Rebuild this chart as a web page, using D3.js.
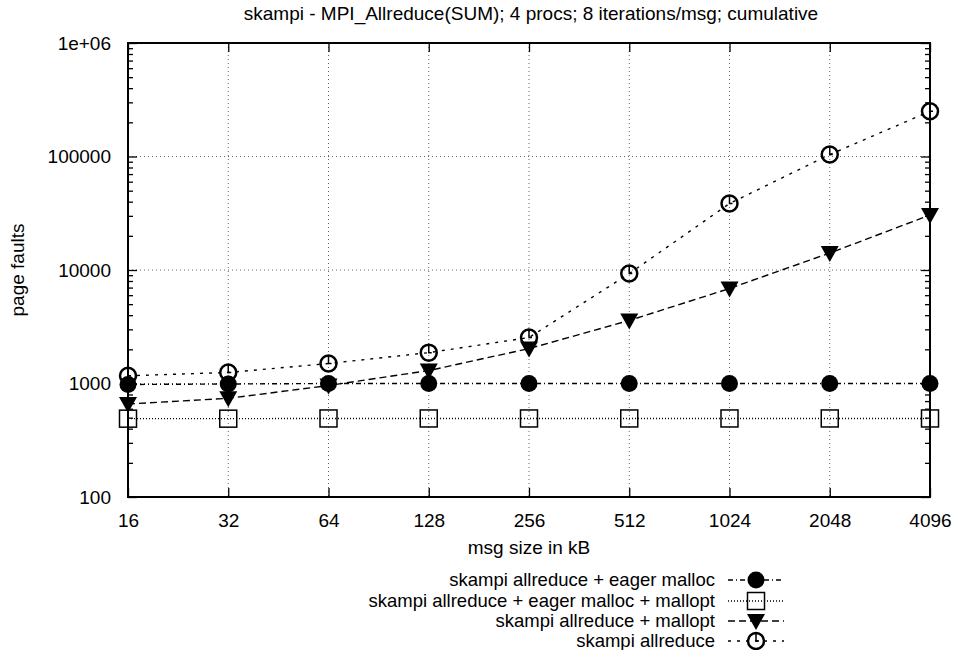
<!DOCTYPE html>
<html><head><meta charset="utf-8">
<script src="https://cdn.jsdelivr.net/npm/d3@7"></script>
<style>body{margin:0;background:#fff}svg{display:block}text{font-family:"Liberation Sans",Arial,sans-serif;fill:#000}</style>
</head><body><svg id="c" width="955" height="650"></svg>
<script>
const msgSizes = [16, 32, 64, 128, 256, 512, 1024, 2048, 4096];
const eagerMalloc = [980, 990, 1000, 1000, 1000, 1000, 1000, 1000, 1000];
const eagerMallocMallopt = [490, 490, 492, 492, 492, 492, 492, 492, 492];
const mallopt = [660, 740, 960, 1300, 2030, 3590, 6870, 14100, 30500];
const allreduce = [1170, 1250, 1500, 1870, 2540, 9300, 38500, 104000, 250000];
const yTickValues = [100, 1000, 10000, 100000, 1000000];
const yTickLabels = ["100", "1000", "10000", "100000", "1e+06"];
const seriesNames = ["skampi allreduce + eager malloc", "skampi allreduce + eager malloc + mallopt", "skampi allreduce + mallopt", "skampi allreduce"];

const svg = d3.select("#c");
const L = 128, R = 930, T = 43, B = 497;
const x = d3.scaleLog().base(2).domain([16, 4096]).range([L, R]);
const y = d3.scaleLog().domain([100, 1e6]).range([B, T]);
const FS = 19, LFS = 18.5;

// grid
const g = svg.append("g");
msgSizes.slice(1, -1).forEach(v => g.append("line").attr("x1", x(v)).attr("x2", x(v)).attr("y1", T).attr("y2", B)
  .attr("stroke", "#666").attr("stroke-width", 1).attr("stroke-dasharray", "1,3"));
yTickValues.slice(1, -1).forEach(v => g.append("line").attr("x1", L).attr("x2", R).attr("y1", y(v)).attr("y2", y(v))
  .attr("stroke", "#666").attr("stroke-width", 1).attr("stroke-dasharray", "1,3"));

// axes with d3 (inward ticks)
const minor = [];
for (let e = 2; e < 6; e++) for (let m = 2; m < 10; m++) minor.push(m * Math.pow(10, e));
const axL = svg.append("g").attr("transform", `translate(${L},0)`)
  .call(d3.axisLeft(y).tickValues(yTickValues).tickFormat((d, i) => yTickLabels[i]).tickSize(-9).tickPadding(17));
const axLm = svg.append("g").attr("transform", `translate(${L},0)`)
  .call(d3.axisLeft(y).tickValues(minor).tickFormat("").tickSize(-5));
const axR = svg.append("g").attr("transform", `translate(${R},0)`)
  .call(d3.axisRight(y).tickValues(yTickValues).tickFormat("").tickSize(-9));
const axRm = svg.append("g").attr("transform", `translate(${R},0)`)
  .call(d3.axisRight(y).tickValues(minor).tickFormat("").tickSize(-5));
const axB = svg.append("g").attr("transform", `translate(0,${B})`)
  .call(d3.axisBottom(x).tickValues(msgSizes).tickFormat(d => d).tickSize(-9).tickPadding(17));
const axT = svg.append("g").attr("transform", `translate(0,${T})`)
  .call(d3.axisTop(x).tickValues(msgSizes).tickFormat("").tickSize(-9));
[axL, axLm, axR, axRm, axB, axT].forEach(a => {
  a.select(".domain").remove();
  a.selectAll("line").attr("stroke", "#000").attr("stroke-width", 1.3);
  a.selectAll("text").style("font-size", FS + "px").style("font-family", '"Liberation Sans",Arial,sans-serif');
});
axB.selectAll("text").attr("dy", "0.68em");

svg.append("rect").attr("x", L).attr("y", T).attr("width", R - L).attr("height", B - T)
  .attr("fill", "none").attr("stroke", "#000").attr("stroke-width", 2);

// titles
svg.append("text").attr("x", (L + R) / 2 + 2).attr("y", 20).attr("text-anchor", "middle").style("font-size", FS + "px")
  .text("skampi - MPI_Allreduce(SUM); 4 procs; 8 iterations/msg; cumulative");
svg.append("text").attr("x", (L + R) / 2).attr("y", 554).attr("text-anchor", "middle").style("font-size", FS + "px")
  .text("msg size in kB");
svg.append("text").attr("transform", `translate(24,${(T + B) / 2}) rotate(-90)`).attr("text-anchor", "middle").style("font-size", FS + "px")
  .text("page faults");

// series
const series = [
  { vals: eagerMalloc, dash: "5,3,1,3", mark: "dot" },
  { vals: eagerMallocMallopt, dash: "1,2", mark: "square" },
  { vals: mallopt, dash: "7,4", mark: "tri" },
  { vals: allreduce, dash: "3,6", mark: "clock" }
];
function marker(sel, type, cx, cy) {
  if (type === "dot") sel.append("circle").attr("cx", cx).attr("cy", cy).attr("r", 8.5).attr("fill", "#000");
  else if (type === "square") sel.append("rect").attr("x", cx - 8.5).attr("y", cy - 8.5).attr("width", 17).attr("height", 17)
    .attr("fill", "none").attr("stroke", "#000").attr("stroke-width", 1.5);
  else if (type === "tri") sel.append("path").attr("d", `M${cx - 9},${cy - 7}L${cx + 9},${cy - 7}L${cx},${cy + 9}Z`).attr("fill", "#000");
  else if (type === "clock") {
    sel.append("circle").attr("cx", cx).attr("cy", cy).attr("r", 8).attr("fill", "none").attr("stroke", "#000").attr("stroke-width", 2.5);
    sel.append("path").attr("d", `M${cx},${cy - 8}L${cx},${cy}L${cx + 3},${cy}`).attr("fill", "none").attr("stroke", "#000").attr("stroke-width", 1.5);
  }
}
const line = d3.line().x((d, i) => x(msgSizes[i])).y(d => y(d));
series.forEach(s => {
  svg.append("path").datum(s.vals).attr("d", line).attr("fill", "none").attr("stroke", "#000")
    .attr("stroke-width", 1.4).attr("stroke-dasharray", s.dash);
});
series.forEach(s => {
  const mg = svg.append("g");
  s.vals.forEach((v, i) => marker(mg, s.mark, x(msgSizes[i]), y(v)));
});

// legend
const legY = [580, 601, 621, 641];
series.forEach((s, i) => {
  const ly = legY[i];
  svg.append("text").attr("x", 715).attr("y", ly).attr("dy", "0.35em").attr("text-anchor", "end").style("font-size", LFS + "px").text(seriesNames[i]);
  svg.append("line").attr("x1", 728).attr("x2", 784).attr("y1", ly).attr("y2", ly).attr("stroke", "#000")
    .attr("stroke-width", 1.4).attr("stroke-dasharray", s.dash);
  marker(svg, s.mark, 756, ly);
});
</script></body></html>
